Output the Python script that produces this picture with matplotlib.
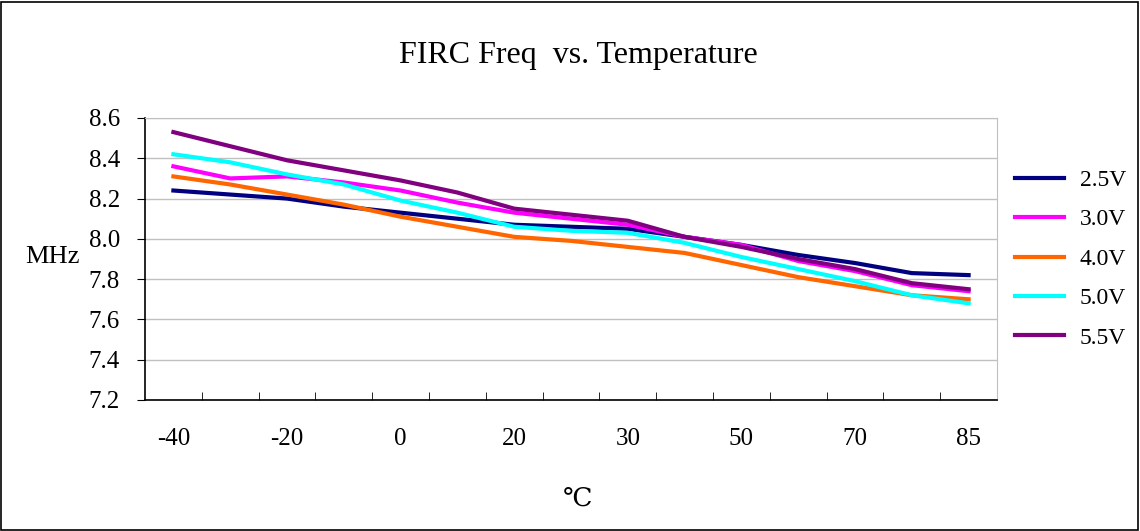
import matplotlib.pyplot as plt
from matplotlib.patches import Rectangle

# temperature categories (only every other one is labelled on the chart)
temps = ["-40", "-30", "-20", "-10", "0", "10", "20", "25", "30", "40", "50", "60", "70", "80", "85"]

v25 = [8.24, 8.22, 8.20, 8.16, 8.13, 8.10, 8.07, 8.06, 8.05, 8.01, 7.97, 7.92, 7.88, 7.83, 7.82]
v30 = [8.36, 8.30, 8.31, 8.28, 8.24, 8.18, 8.13, 8.10, 8.07, 8.01, 7.97, 7.89, 7.84, 7.77, 7.74]
v40 = [8.31, 8.27, 8.22, 8.17, 8.11, 8.06, 8.01, 7.99, 7.96, 7.93, 7.87, 7.81, 7.765, 7.72, 7.70]
v50 = [8.42, 8.38, 8.32, 8.27, 8.19, 8.13, 8.06, 8.04, 8.03, 7.98, 7.91, 7.85, 7.79, 7.72, 7.68]
v55 = [8.53, 8.46, 8.39, 8.34, 8.29, 8.23, 8.15, 8.12, 8.09, 8.01, 7.96, 7.90, 7.85, 7.78, 7.75]

series = [("2.5V", v25, "#000080"), ("3.0V", v30, "#ff00ff"), ("4.0V", v40, "#ff6600"),
          ("5.0V", v50, "#00ffff"), ("5.5V", v55, "#800080")]

plt.rcParams['font.family'] = ['Liberation Serif', 'DejaVu Serif']

fig = plt.figure(figsize=(11.4, 5.31), dpi=100)
ax = fig.add_axes([145/1140, 1 - 400/531, 852/1140, 282/531])

x = list(range(len(temps)))
for name, vals, col in series:
    ax.plot(x, vals, color=col, linewidth=3, label=name, solid_joinstyle='round')

ax.set_xlim(-0.5, len(temps) - 0.5)
ax.set_ylim(7.2, 8.6)
ax.set_yticks([7.2 + 0.2 * i for i in range(8)])
ax.set_yticklabels(["%.1f" % (7.2 + 0.2 * i) for i in range(8)], fontsize=18)
ax.grid(axis='y', color='#c0c0c0', linewidth=1)
ax.set_axisbelow(True)

ax.set_xticks(x[::2])
ax.set_xticklabels(temps[::2], fontsize=18)
ax.set_xticks([i + 0.5 for i in range(len(temps) - 1)], minor=True)
ax.tick_params(axis='x', which='major', length=0, pad=20)
ax.tick_params(axis='x', which='minor', direction='in', length=6, color='black')
ax.tick_params(axis='y', direction='out', length=6, pad=12)

for s in ['top', 'right']:
    ax.spines[s].set_color('#c0c0c0')
for s in ['left', 'bottom']:
    ax.spines[s].set_color('black')
    ax.spines[s].set_linewidth(1.2)

fig.text(578/1140, 1 - 55/531, "FIRC Freq  vs. Temperature", fontsize=23, ha='center', va='center')
fig.text(52/1140, 1 - 257/531, "MHz", fontsize=19, ha='center', va='center')
fig.text(578/1140, 1 - 500/531, "\u2103", fontsize=19, ha='center', va='center')

leg = ax.legend(loc='center left', bbox_to_anchor=(1.021, 0.5), frameon=False, fontsize=17,
                handlelength=2.1, labelspacing=0.76, handletextpad=0.65, borderpad=0,
                borderaxespad=0)

fig.patches.append(Rectangle((0.001, 0.001), 0.997, 0.996, transform=fig.transFigure,
                             fill=False, edgecolor='black', linewidth=1.2))

fig.savefig("out.png", dpi=100)
